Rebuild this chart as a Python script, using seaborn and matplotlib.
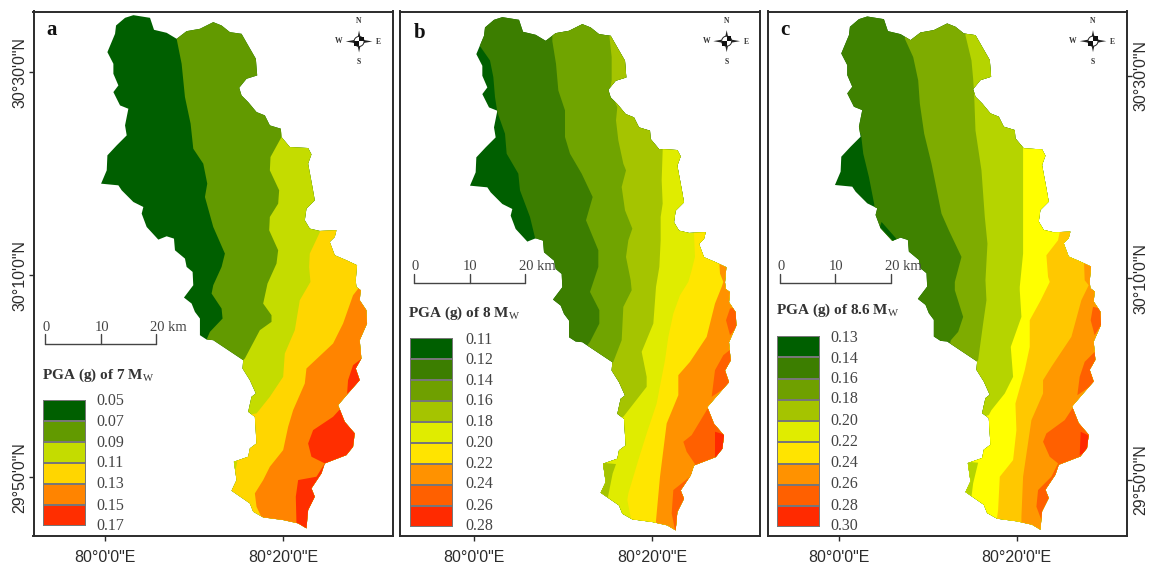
import numpy as np
import matplotlib
matplotlib.use('Agg')
import matplotlib.pyplot as plt
from matplotlib.colors import ListedColormap
import seaborn as sns

# everything is in map grid units, y grows to the south
outline = [(400,44),(450,52),(462,88),(500,97),(530,115),(560,92),(600,85),(640,65),(665,75),(690,95),(725,100),
           (745,135),(768,175),(772,225),(740,235),(718,262),(725,285),(745,305),(770,335),(795,345),(810,375),
           (843,385),(845,410),(870,440),(925,443),(935,462),(925,490),(938,560),(945,600),(920,625),(915,660),
           (930,685),(960,692),(1010,690),(1005,710),(990,725),(1005,765),(1040,780),(1072,795),(1068,840),
           (1070,860),(1083,870),(1080,900),(1100,930),(1102,970),(1080,1020),(1085,1075),(1068,1105),(1080,1140),
           (1045,1180),(1015,1215),(1035,1265),(1065,1300),(1060,1340),(1040,1365),(975,1390),(965,1420),
           (935,1465),(945,1490),(925,1530),(920,1585),(895,1570),(850,1560),(790,1552),(760,1535),(750,1510),
           (695,1472),(710,1440),(702,1385),(745,1370),(750,1345),(770,1330),(765,1250),(745,1235),(755,1190),
           (768,1180),(750,1140),(728,1105),(730,1080),(640,1020),(620,1018),(600,1005),(600,955),(585,935),
           (575,910),(552,892),(580,855),(578,815),(560,800),(555,775),(525,750),(522,715),(500,708),(475,718),
           (440,680),(425,640),(430,620),(400,605),(365,570),(355,555),(303,550),(320,510),(322,465),(350,435),
           (380,405),(375,375),(385,325),(360,315),(340,275),(355,255),(340,220),(340,190),(322,155),(345,100),
           (348,75),(375,52)]

# panel a
a_colors = ['#005f00', '#629a00', '#c4dc00', '#ffd600', '#ff8400', '#ff2e00']
a_front1 = [(525,0),(530,115),(545,190),(555,290),(572,370),(580,445),(610,490),(622,550),(615,590),(640,680),
            (675,760),(665,800),(640,855),(635,880),(665,925),(668,955),(630,995),(620,1018),(600,1100),(600,1700)]
a_front2 = [(843,0),(843,385),(845,410),(812,470),(810,510),(838,570),(835,610),(810,650),(808,690),(835,750),
            (830,790),(803,850),(790,910),(815,945),(815,965),(780,990),(735,1075),(730,1080),(640,1100),(640,1700)]
a_front3 = [(962,0),(962,692),(930,760),(928,800),(932,845),(900,900),(885,990),(855,1060),(850,1130),(810,1190),
            (770,1240),(700,1250),(600,1700)]
a_front4 = [(1078,0),(1078,862),(1060,885),(1030,970),(1000,1030),(920,1105),(915,1150),(880,1230),(865,1280),
            (850,1350),(810,1400),(790,1440),(765,1480),(770,1520),(785,1552),(785,1700)]
a_front5 = [(1300,1215),(1020,1228),(1000,1250),(940,1290),(925,1330),(935,1370),(975,1390),(950,1430),(895,1440),
            (888,1490),(890,1570),(890,1700)]
a_patches = [(5, [(1090,1072),(1060,1095),(1045,1140),(1042,1182),(1085,1140),(1100,1100)]),
             (2, [(695,1380),(712,1385),(705,1420)])]

# panel b
b_colors = ['#005f00', '#3c7e00', '#70a400', '#a5c400', '#e0ec00', '#ffe600', '#ff9200', '#ff6000', '#ff2a00']
b_front1 = [(200,0),(200,100),(255,120),(272,140),(300,180),(310,230),(315,290),(322,335),(345,400),(350,460),
            (385,520),(390,570),(420,650),(435,712),(430,1700)]
b_front2 = [(487,0),(487,122),(498,190),(505,270),(525,330),(525,410),(540,460),(575,520),(608,590),(588,660),
            (625,750),(625,800),(610,845),(600,875),(628,930),(628,970),(600,1025),(540,1100),(540,1700)]
b_front3 = [(658,0),(658,105),(665,170),(665,240),(660,270),(682,320),(678,360),(685,420),(700,490),(708,510),
            (695,560),(705,630),(727,685),(715,720),(708,770),(722,840),(725,870),(700,920),(695,1020),(670,1085),
            (600,1120),(600,1700)]
b_front4 = [(818,0),(818,450),(815,540),(818,610),(812,650),(812,720),(808,800),(798,860),(790,970),(755,1055),
            (770,1130),(770,1160),(735,1205),(700,1250),(640,1260),(600,1400),(600,1700)]
b_front5 = [(912,0),(912,700),(915,770),(905,810),(895,845),(870,885),(850,940),(835,1010),(825,1080),(800,1210),
            (770,1300),(745,1380),(715,1480),(712,1500),(722,1552),(722,1700)]
b_front6 = [(988,0),(988,788),(990,820),(1000,845),(995,860),(975,910),(950,1010),(900,1085),(865,1125),(865,1185),
            (830,1270),(810,1430),(800,1540),(798,1562),(798,1700)]
b_front7 = [(1300,1222),(955,1222),(905,1305),(880,1325),(890,1355),(915,1392),(900,1430),(850,1470),(845,1540),
            (855,1590),(855,1700)]
b_patches = [(3, [(636,1388),(678,1392),(668,1420),(660,1460),(652,1500),(625,1480)]),
             (7, [(1020,925),(1045,920),(1050,970),(1020,1005),(1008,960)]),
             (7, [(1025,1045),(1000,1065),(975,1110),(965,1190),(1025,1150),(1035,1080)]),
             (8, [(975,1295),(1010,1305),(1015,1340),(995,1365),(975,1372)])]

# panel c
c_colors = ['#005f00', '#3f8200', '#7eac00', '#b5d400', '#ffff00', '#ffc800', '#ff9800', '#ff6000', '#ff2a00']
c_front1 = [(200,0),(200,395),(288,400),(295,460),(312,530),(328,612),(328,1700)]
c_front2 = [(420,0),(420,115),(445,170),(460,240),(465,310),(478,400),(500,490),(520,590),(530,640),(552,690),
            (590,770),(570,845),(570,870),(595,950),(580,995),(558,1020),(540,1100),(540,1700)]
c_front3 = [(602,0),(602,105),(620,180),(625,235),(628,280),(632,390),(650,510),(660,650),(668,730),(662,840),
            (665,900),(655,970),(640,1080),(635,1085),(600,1120),(600,1700)]
c_front4 = [(775,0),(775,445),(775,620),(775,760),(765,860),(765,870),(770,950),(738,1040),(745,1130),(720,1180),
            (680,1230),(672,1245),(620,1260),(570,1400),(570,1700)]
c_front5 = [(885,0),(885,695),(880,720),(845,765),(850,830),(855,845),(828,900),(795,960),(795,1040),(780,1110),
            (752,1210),(755,1290),(745,1380),(705,1430),(700,1530),(697,1552),(697,1700)]
c_front6 = [(958,0),(958,785),(960,840),(972,855),(950,900),(920,1010),(860,1100),(835,1140),(835,1180),(800,1260),
            (775,1430),(770,1550),(770,1700)]
c_front7 = [(1300,1222),(925,1222),(900,1260),(845,1300),(835,1325),(855,1370),(880,1390),(860,1430),(820,1470),
            (815,1520),(830,1560),(830,1700)]
c_patches = [(3, [(608,1385),(640,1388),(625,1450),(620,1490),(600,1475)]),
             (0, [(345,680),(385,722),(395,716),(350,665)]),
             (7, [(985,920),(1010,925),(1015,965),(990,1005),(978,960)]),
             (7, [(990,1055),(960,1085),(945,1130),(938,1185),(990,1150),(1000,1080)]),
             (8, [(948,1295),(980,1310),(980,1350),(945,1365)])]

# legends
a_levels = ['0.05', '0.07', '0.09', '0.11', '0.13', '0.15', '0.17']
b_levels = ['0.11', '0.12', '0.14', '0.16', '0.18', '0.20', '0.22', '0.24', '0.26', '0.28']
c_levels = ['0.13', '0.14', '0.16', '0.18', '0.20', '0.22', '0.24', '0.26', '0.28', '0.30']
a_level_y = [1203, 1265, 1328, 1390, 1452, 1518, 1578]
b_level_y = [1020, 1080, 1142, 1202, 1266, 1330, 1392, 1452, 1518, 1578]
c_level_y = [1013, 1075, 1138, 1198, 1264, 1326, 1390, 1452, 1518, 1578]
legend_colors_bc = ['#005f00', '#3c7e00', '#6fa000', '#a5c400', '#e0ec00', '#ffe400', '#ff9200', '#ff6000', '#ff2a00']
scale_km = [0, 10, 20]

sns.set_style('white')
plt.rcParams['font.family'] = ['Liberation Serif', 'DejaVu Serif']
plt.rcParams['mathtext.fontset'] = 'custom'
plt.rcParams['mathtext.rm'] = 'Liberation Serif'

W, H = 1151, 566
INK = '#2b2b2b'
SANS = ['Liberation Sans', 'DejaVu Sans']

panels = [
    dict(letter='a', box=(33.5, 393), x0=100, letter_xy=(140, 90), shift=(0, 0),
         colors=a_colors, fronts=[a_front1, a_front2, a_front3, a_front4, a_front5], patches=a_patches,
         xticks=[315, 849], yticks=[216, 825, 1432], yside='left',
         levels=a_levels, level_y=a_level_y, level_x=290, swatch=(128, 257, 1200, 1578), legend_colors=a_colors,
         title='PGA (g) of 7 M', title_xy=(127, 1127), scale=(135, 1030), scale_label_y=982, compass=(1078, 123)),
    dict(letter='b', box=(400, 760), x0=30, letter_xy=(72, 98), shift=(-63, 6),
         colors=b_colors, fronts=[b_front1, b_front2, b_front3, b_front4, b_front5, b_front6, b_front7], patches=b_patches,
         xticks=[252, 786], yticks=[], yside=None,
         levels=b_levels, level_y=b_level_y, level_x=225, swatch=(60, 188, 1012, 1582), legend_colors=legend_colors_bc,
         title='PGA (g) of 8 M', title_xy=(55, 940), scale=(72, 848), scale_label_y=798, compass=(1010, 122)),
    dict(letter='c', box=(767.7, 1127.3), x0=8, letter_xy=(45, 88), shift=(-93, 4),
         colors=c_colors, fronts=[c_front1, c_front2, c_front3, c_front4, c_front5, c_front6, c_front7], patches=c_patches,
         xticks=[222, 756], yticks=[226, 834, 1440], yside='right',
         levels=c_levels, level_y=c_level_y, level_x=195, swatch=(37, 165, 1008, 1582), legend_colors=legend_colors_bc,
         title='PGA (g) of 8.6 M', title_xy=(33, 930), scale=(45, 848), scale_label_y=798, compass=(985, 122)),
]

TOP, BOTTOM = 33, 1608


def draw_compass(ax, cx, cy):
    for dx, dy in [(0, -1), (1, 0), (0, 1), (-1, 0)]:
        reach = 33 if dx == 0 else 40
        px, py = -dy * 7, dx * 7
        ax.fill([cx + dx * reach, cx + px, cx - px], [cy + dy * reach, cy + py, cy - py], color='#222222', lw=0, zorder=5)
    t = np.linspace(0, 2 * np.pi, 40)
    ax.fill(cx + 15 * np.cos(t), cy + 15 * np.sin(t), facecolor='white', edgecolor='#222222', lw=0.7, zorder=6)
    ax.fill([cx, cx + 14, cx + 14, cx], [cy, cy, cy - 14, cy - 14], color='#111111', lw=0, zorder=7)
    ax.fill([cx, cx - 14, cx - 14, cx], [cy, cy, cy + 14, cy + 14], color='#111111', lw=0, zorder=7)
    for s, tx, ty in [('N', cx, cy - 61), ('S', cx, cy + 63), ('W', cx - 60, cy), ('E', cx + 59, cy + 2)]:
        ax.text(tx, ty, s, fontsize=5.5, fontweight='bold', color='#333333', ha='center', va='center')


fig = plt.figure(figsize=(W / 100, H / 100), dpi=100)

for p in panels:
    left, right = p['box']
    ax = fig.add_axes([left / W, (H - 536) / H, (right - left) / W, 524.5 / H])
    ax.set_xlim(p['x0'], p['x0'] + 1080)
    ax.set_ylim(BOTTOM, TOP)

    dx, dy = p['shift']
    xs = [pt[0] + dx for pt in outline]
    ys = [pt[1] + dy for pt in outline]
    land = ax.fill(xs, ys, color=p['colors'][0], lw=0)[0]

    for i, front in enumerate(p['fronts']):
        fx = [pt[0] for pt in front] + [3000, 3000]
        fy = [pt[1] for pt in front] + [front[-1][1], front[0][1]]
        band = ax.fill(fx, fy, color=p['colors'][i + 1], lw=0)[0]
        band.set_clip_path(land)
    for idx, poly in p['patches']:
        piece = ax.fill([q[0] for q in poly], [q[1] for q in poly], color=p['colors'][idx], lw=0)[0]
        piece.set_clip_path(land)

    # legend swatches
    sx0, sx1, sy0, sy1 = p['swatch']
    inset = ax.inset_axes([(sx0 - p['x0']) / 1080, (BOTTOM - sy1) / (BOTTOM - TOP),
                           (sx1 - sx0) / 1080, (sy1 - sy0) / (BOTTOM - TOP)])
    cells = np.arange(len(p['legend_colors'])).reshape(-1, 1)
    sns.heatmap(cells, cmap=ListedColormap(p['legend_colors']), cbar=False, linewidths=0.3, linecolor='#777777',
                xticklabels=False, yticklabels=False, ax=inset)
    for lab, ly in zip(p['levels'], p['level_y']):
        ax.text(p['level_x'], ly, lab, fontsize=11.5, color='#444444', ha='left', va='center')
    ax.text(p['title_xy'][0], p['title_xy'][1], p['title'] + r'$_{\mathrm{W}}$', fontsize=11, fontweight='bold',
            color='#333333', ha='left', va='center')

    # scale bar
    bx, by = p['scale']
    km = 333 / 20
    bar_x = [bx + k * km for k in scale_km]
    ax.plot([bar_x[0], bar_x[-1]], [by, by], color='#444444', lw=1)
    for bt in bar_x:
        ax.plot([bt, bt], [by - 28, by], color='#444444', lw=1)
    ax.text(bar_x[0] + 3, p['scale_label_y'], str(scale_km[0]), fontsize=10.5, color='#444444', ha='center', va='center')
    ax.text(bar_x[1] + 3, p['scale_label_y'], str(scale_km[1]), fontsize=10.5, color='#444444', ha='center', va='center')
    ax.text(bar_x[2] - 18, p['scale_label_y'], str(scale_km[2]) + ' km', fontsize=10.5, color='#444444', ha='left', va='center')

    draw_compass(ax, *p['compass'])
    ax.text(p['letter_xy'][0], p['letter_xy'][1], p['letter'], fontsize=15, fontweight='bold', color='#111111',
            ha='left', va='center')

    ax.set_xticks(p['xticks'], ['80°0\'0"E', '80°20\'0"E'], fontfamily=SANS, fontsize=11.5, color=INK)
    if p['yside']:
        ax.set_yticks(p['yticks'], ['30°30\'0"N', '30°10\'0"N', '29°50\'0"N'], fontfamily=SANS, fontsize=11.5, color=INK,
                      rotation=90, va='center')
        if p['yside'] == 'right':
            ax.yaxis.tick_right()
    else:
        ax.set_yticks([])
    ax.tick_params(axis='x', length=3.5, width=1, color=INK, pad=6.5, bottom=True)
    ax.tick_params(axis='y', length=3.5, width=1, color=INK, pad=1)
    if p['yside'] == 'left':
        ax.tick_params(axis='y', left=True)
    if p['yside'] == 'right':
        ax.tick_params(axis='y', right=True)
    for s in ax.spines.values():
        s.set_visible(True)
        s.set_color(INK)
        s.set_linewidth(1.4)

fig.savefig('out.png', dpi=100)
